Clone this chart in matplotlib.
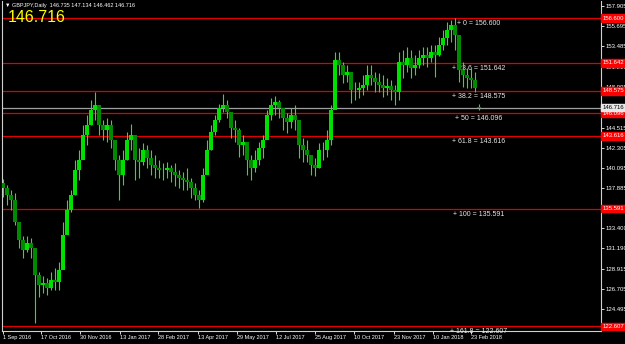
import matplotlib.pyplot as plt
import numpy as np

plt.rcParams['font.family'] = ['Liberation Sans', 'DejaVu Sans']

# GBPJPY daily in blocks of 4 trading days
highs = [138.85, 138.19, 137.64, 137.31, 133.45, 132.57, 132.57, 132.35, 131.24, 128.60,
         128.16, 127.94, 128.60, 129.04, 129.70, 134.11, 136.54, 137.64, 140.95, 142.05,
         144.80, 145.91, 147.56, 148.44, 146.68, 145.36, 145.58, 145.36, 143.15, 141.50,
         142.05, 144.03, 144.91, 143.70, 142.27, 142.82, 142.60, 142.05, 141.50, 140.95,
         140.61, 140.72, 140.39, 140.61, 139.84, 139.62, 140.06, 138.96, 138.41, 137.64,
         140.06, 143.15, 144.80, 145.91, 147.12, 148.22, 147.56, 145.58, 145.36, 144.47,
         143.70, 142.60, 141.50, 142.05, 142.93, 143.70, 146.46, 147.78, 148.00, 147.56,
         146.68, 146.13, 146.68, 147.01, 144.80, 143.37, 143.15, 141.50, 141.17, 142.82,
         142.93, 144.25, 147.01, 152.85, 152.85, 151.75, 151.42, 150.65, 149.54, 149.54,
         150.32, 151.42, 151.42, 150.65, 150.54, 150.32, 149.99, 149.77, 149.21, 152.85,
         153.07, 153.40, 153.07, 152.52, 153.07, 153.40, 153.40, 153.62, 153.62, 154.51,
         155.28, 156.16, 156.38, 156.60, 154.18, 151.75, 151.09, 151.09, 150.65, 147.134]
lows = [136.87, 135.98, 135.43, 133.78, 131.24, 130.14, 130.80, 130.14, 122.97, 125.84,
        126.28, 126.06, 126.61, 126.61, 126.61, 129.37, 134.11, 135.21, 137.09, 138.74,
        141.17, 142.60, 144.80, 145.36, 143.70, 143.15, 142.93, 142.27, 139.84, 136.54,
        138.19, 140.95, 142.05, 138.74, 138.96, 140.39, 140.06, 139.29, 138.96, 138.96,
        138.74, 138.96, 138.52, 138.08, 137.86, 137.64, 137.64, 136.76, 136.54, 135.65,
        136.31, 139.62, 142.05, 143.70, 145.13, 146.24, 145.58, 143.37, 142.93, 141.28,
        141.50, 139.29, 138.74, 139.62, 140.39, 141.17, 143.70, 145.36, 145.91, 145.58,
        144.25, 143.92, 144.47, 144.25, 141.17, 140.72, 140.72, 139.29, 139.18, 140.06,
        140.95, 141.28, 142.60, 147.56, 150.32, 149.43, 149.54, 147.23, 147.56, 147.78,
        148.11, 148.66, 149.21, 148.44, 148.44, 147.89, 148.11, 147.56, 147.01, 147.56,
        149.99, 150.65, 149.99, 150.32, 151.09, 151.42, 151.20, 151.75, 150.10, 152.41,
        153.07, 153.62, 153.95, 153.07, 149.54, 148.99, 148.88, 148.88, 148.44, 146.462]
closes = [137.86, 137.09, 136.54, 134.11, 132.13, 131.02, 131.79, 131.24, 128.27, 127.16,
          127.38, 126.83, 127.72, 127.49, 128.82, 132.68, 135.43, 137.09, 139.84, 140.95,
          143.70, 144.80, 146.46, 147.01, 144.80, 144.25, 144.80, 143.15, 140.95, 139.29,
          140.95, 143.15, 143.70, 140.95, 140.72, 142.05, 141.17, 140.39, 140.06, 139.84,
          139.84, 140.06, 139.62, 139.29, 138.96, 138.74, 138.52, 137.86, 137.09, 136.54,
          139.29, 142.05, 144.03, 145.36, 146.68, 147.01, 146.24, 144.47, 144.25, 142.60,
          142.93, 140.95, 140.06, 140.95, 142.27, 143.15, 145.91, 147.01, 147.34, 146.68,
          145.58, 145.13, 145.91, 145.36, 142.60, 142.05, 141.50, 140.39, 140.06, 142.05,
          142.05, 143.15, 146.46, 151.97, 151.42, 150.32, 150.65, 148.66, 148.66, 148.88,
          149.21, 150.32, 149.99, 149.54, 149.21, 148.88, 149.10, 148.66, 148.44, 151.75,
          151.42, 152.19, 151.09, 151.42, 152.19, 152.52, 152.19, 152.85, 152.52, 153.62,
          154.40, 155.28, 155.83, 154.73, 150.87, 150.32, 149.99, 149.77, 148.88, 146.716]
first_open = 138.40
last_open = 146.735

fib_pcts = ['0', '23.6', '38.2', '50', '61.8', '100', '161.8']
fib_prices = [156.600, 151.642, 148.575, 146.096, 143.616, 135.591, 122.607]
current_price = 146.716

price_ticks = [157.905, 155.695, 153.485, 151.210, 148.995, 144.515, 142.305,
               140.095, 137.885, 133.400, 131.190, 128.915, 126.705, 124.495, 122.285]
date_ticks = [0, 38, 77, 117, 155, 195, 234, 273, 312, 351, 391, 430, 468]
date_labels = ['1 Sep 2016', '17 Oct 2016', '30 Nov 2016', '13 Jan 2017', '28 Feb 2017',
               '13 Apr 2017', '29 May 2017', '12 Jul 2017', '25 Aug 2017', '10 Oct 2017',
               '23 Nov 2017', '10 Jan 2018', '23 Feb 2018']

days_per_candle = 4
highs = np.array(highs)
lows = np.array(lows)
closes = np.array(closes)
opens = np.concatenate([[first_open], closes[:-1]])
opens[-1] = last_open
x = np.arange(len(closes)) * days_per_candle

fig = plt.figure(figsize=(6.25, 3.44), dpi=100, facecolor='black')
ax = fig.add_axes([2 / 625, 13 / 344, 599 / 625, 330 / 344])
ax.set_facecolor('black')
ax.set_xlim(-1, 598)
ax.set_ylim(122.09, 158.475)

# fibonacci levels
for pct, p in zip(fib_pcts, fib_prices):
    ax.axhline(p, color='#e00000', lw=0.9, zorder=1)
    ax.annotate(f'+ {pct} = {p:.3f}', (x[-1], p), xytext=(0, -1.5),
                textcoords='offset points', ha='center', va='top',
                fontsize=5, color='#e8e8e8', annotation_clip=False)
    ax.text(1.002, p, f'{p:.3f}', transform=ax.get_yaxis_transform(),
            fontsize=4.3, color='white', va='center', ha='left', clip_on=False,
            bbox=dict(facecolor='#ff0000', edgecolor='#ff0000', pad=0.9), zorder=5)

ax.axhline(current_price, color='#a0a0a0', lw=0.9, zorder=1)
ax.text(1.002, current_price, f'{current_price:.3f}', transform=ax.get_yaxis_transform(),
        fontsize=4.3, color='black', va='center', ha='left', clip_on=False,
        bbox=dict(facecolor='#e8e8e8', edgecolor='#e8e8e8', pad=0.9), zorder=6)

# candles
up = closes >= opens
ax.vlines(x, lows, highs, color='#00ff00', lw=0.8, zorder=3)
ax.bar(x, np.abs(closes - opens), bottom=np.minimum(opens, closes), width=3.2,
       color=np.where(up, '#00e000', '#008a00'), zorder=4)

# axes styling
for side in ['left', 'bottom', 'right']:
    ax.spines[side].set_color('#d0d0d0')
    ax.spines[side].set_linewidth(0.8)
ax.spines['top'].set_visible(False)

ax.yaxis.tick_right()
ax.set_yticks(price_ticks)
ax.set_yticklabels([f'{t:.3f}' for t in price_ticks])
ax.tick_params(axis='y', colors='white', labelsize=4.3, length=2, width=0.6, pad=1)

ax.set_xticks(date_ticks)
ax.set_xticklabels(date_labels, ha='left')
ax.tick_params(axis='x', colors='white', labelsize=4, length=2, width=0.6, pad=1)
for lab in ax.get_xticklabels():
    lab.set_x(lab.get_position()[0])

fig.text(5 / 625, 1 - 6 / 344, '\u25bc GBPJPY,Daily  146.735 147.134 146.462 146.716',
         color='white', fontsize=4, va='center', ha='left')
fig.text(8 / 625, 1 - 18 / 344, f'{current_price:.3f}', color='#ffff00',
         fontsize=11.5, va='center', ha='left')

fig.savefig('out.png', dpi=100, facecolor='black')
